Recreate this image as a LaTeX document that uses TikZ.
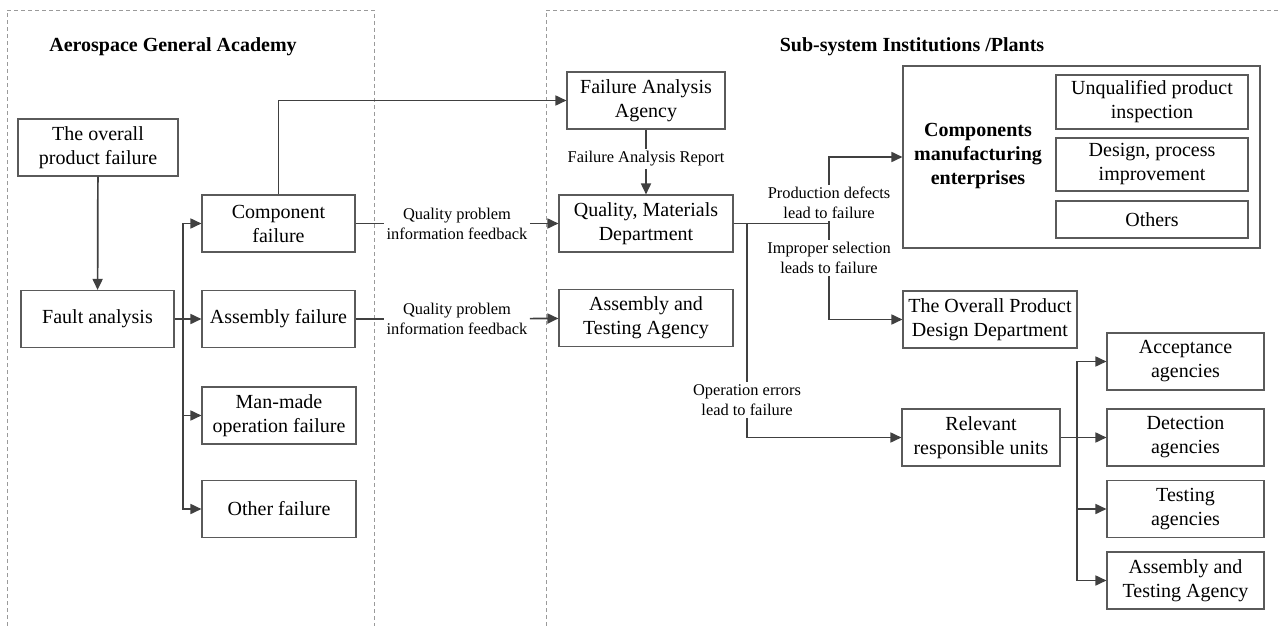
\documentclass[tikz,border=0pt]{standalone}
\usepackage{fontspec}
\setmainfont{Liberation Serif}
\usetikzlibrary{arrows.meta}
\definecolor{linegray}{HTML}{404040}
\definecolor{boxgray}{HTML}{5A5A5A}
\definecolor{zonegray}{HTML}{9A9A9A}
\tikzset{
  box/.style={draw=boxgray, line width=0.55pt, align=center, inner sep=0pt, minimum height=28.5pt, minimum width=#1, font=\fontsize{10}{12}\selectfont},
  box/.default=76.5pt,
  lab/.style={inner sep=1pt, align=center, font=\fontsize{8.2}{10}\selectfont},
  head/.style={align=center, font=\fontsize{10}{12}\selectfont\bfseries},
  conn/.style={draw=linegray, line width=0.85pt},
  zone/.style={draw=zonegray, line width=0.4pt, dash pattern=on 2pt off 1.5pt}
}

\begin{document}
\begin{tikzpicture}[x=0.5pt, y=-0.5pt, >={Triangle[length=5.5pt,width=5pt]}]
\useasboundingbox (0,0) rectangle (1279,626);
\draw[zone] (7,626) -- (7,10) -- (374,10) -- (374,626);
\draw[zone] (546,626) -- (546,10) -- (1279,10);
\node[head] (acad) at (173,47) {Aerospace General Academy};
\node[head] (subsys) at (912,47) {Sub-system Institutions /Plants};

\node[box=80pt] (overall) at (98,147.5) {The overall\\product failure};
\node[box] (fault) at (97.5,319) {Fault analysis};
\node[box] (comp) at (278.5,223.5) {Component\\failure};
\node[box] (assy) at (278.5,319) {Assembly failure};
\node[box=77pt] (manmade) at (279,415.5) {Man-made\\operation failure};
\node[box=77pt] (other) at (279,509) {Other failure};

\node[box=79pt] (faa) at (646,100.5) {Failure Analysis\\Agency};
\node[box=87pt] (quality) at (646,223.5) {Quality, Materials\\Department};
\node[box=87pt] (atagency) at (646,318) {Assembly and\\Testing Agency};

\node[box=178.5pt, minimum height=91pt] (cme) at (1081.5,157) {};
\node[head] (cmetext) at (978,156) {Components\\manufacturing\\enterprises};
\node[box=96pt, minimum height=27pt] (unq) at (1152,102) {Unqualified product\\inspection};
\node[box=96pt, minimum height=26.5pt] (design) at (1152,164.5) {Design, process\\improvement};
\node[box=96pt, minimum height=18.5pt] (others) at (1152,219.5) {Others};
\node[box=87pt] (opdd) at (990,319.5) {The Overall Product\\Design Department};
\node[box=79pt] (relevant) at (981,437.5) {Relevant\\responsible units};
\node[box=78.5pt] (accept) at (1185.5,361.5) {Acceptance\\agencies};
\node[box=78.5pt] (detect) at (1185.5,437.5) {Detection\\agencies};
\node[box=78.5pt] (testing) at (1185.5,509) {Testing\\agencies};
\node[box=78.5pt] (atunit) at (1185.5,580.5) {Assembly and\\Testing Agency};

\node[lab] (fbcomp) at (457,223.5) {Quality problem\\information feedback};
\node[lab] (fbassy) at (457,319) {Quality problem\\information feedback};
\node[lab] (report) at (646,159) {Failure Analysis Report};
\node[lab] (defects) at (829,203) {Production defects\\lead to failure};
\node[lab] (selection) at (829,258) {Improper selection\\leads to failure};
\node[lab] (operation) at (747,400) {Operation errors\\lead to failure};

\coordinate (jf) at (183,319);
\coordinate (jq) at (829,223.5);
\coordinate (jo) at (747,223.5);
\coordinate (jr) at (1077,437.5);

\draw[conn,->] (overall) -- (fault);
\draw[conn] (fault) -- (jf);
\draw[conn,->] (fault) -- (assy);
\foreach \t in {comp,manmade,other}
  \draw[conn,->] (jf) |- (\t);
\draw[conn,->] (comp) |- (faa);
\draw[conn] (faa) -- (report);
\draw[conn,->] (report) -- (quality);
\draw[conn] (comp) -- (fbcomp);
\draw[conn,->] (fbcomp) -- (quality);
\draw[conn] (assy) -- (fbassy);
\draw[conn,->] (fbassy) -- (atagency);
\draw[conn] (quality) -- (jq) -- (selection);
\draw[conn] (jq) -- (defects);
\draw[conn,->] (defects) |- (cme);
\draw[conn,->] (selection) |- (opdd);
\draw[conn] (jo) -- (operation);
\draw[conn,->] (operation) |- (relevant);
\draw[conn] (relevant) -- (jr);
\draw[conn,->] (relevant) -- (detect);
\foreach \t in {accept,testing,atunit}
  \draw[conn,->] (jr) |- (\t);
\end{tikzpicture}
\end{document}
